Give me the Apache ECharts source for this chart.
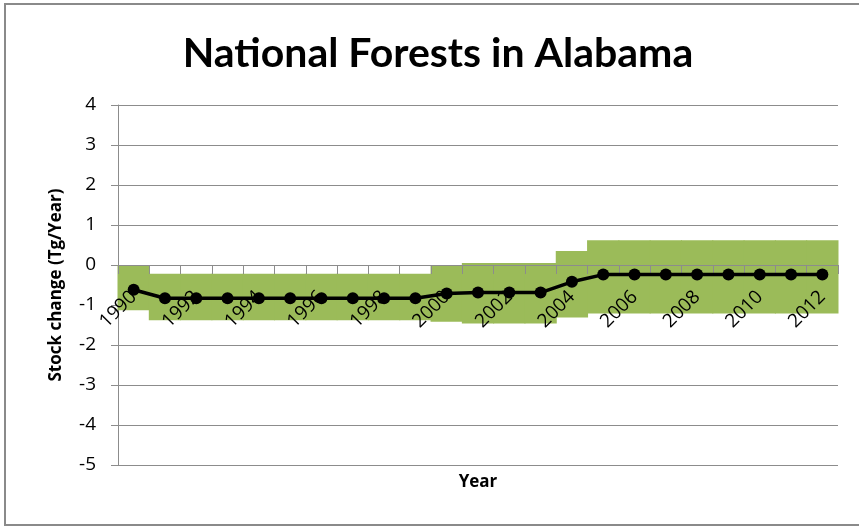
<!DOCTYPE html>
<html>
<head>
<meta charset="utf-8">
<script src="https://cdn.jsdelivr.net/npm/echarts@6/dist/echarts.min.js"></script>
<style>
html,body{margin:0;padding:0;background:#fff;}
#chart{width:859px;height:527px;}
</style>
</head>
<body>
<div id="chart"></div>
<script>
const years = ['1990','1991','1992','1993','1994','1995','1996','1997','1998','1999','2000','2001','2002','2003','2004','2005','2006','2007','2008','2009','2010','2011','2012'];
const stockChange = [-0.62,-0.83,-0.83,-0.83,-0.83,-0.83,-0.83,-0.83,-0.83,-0.83,-0.71,-0.69,-0.69,-0.69,-0.42,-0.24,-0.24,-0.24,-0.24,-0.24,-0.24,-0.24,-0.24];
const upperBound = [0,-0.22,-0.22,-0.22,-0.22,-0.22,-0.22,-0.22,-0.22,-0.22,0,0.05,0.05,0.05,0.35,0.62,0.62,0.62,0.62,0.62,0.62,0.62,0.62];
const lowerBound = [-1.13,-1.38,-1.38,-1.38,-1.38,-1.38,-1.38,-1.38,-1.38,-1.38,-1.42,-1.46,-1.46,-1.46,-1.31,-1.21,-1.21,-1.21,-1.21,-1.21,-1.21,-1.21,-1.21];
const yMin = -5, yMax = 4, yStep = 1;

const labelFont = "'Open Sans', 'Liberation Sans', sans-serif";
const titleFont = "Lato, 'Open Sans', sans-serif";
const gridBottom = 62;

const chart = echarts.init(document.getElementById('chart'), null, {renderer: 'canvas'});
chart.setOption({
  animation: false,
  backgroundColor: '#ffffff',
  title: {
    text: 'National Forests in Alabama',
    left: 433,
    top: 28,
    textAlign: 'center',
    textStyle: {fontFamily: titleFont, fontWeight: 'bold', fontSize: 41, color: '#000'}
  },
  graphic: [{
    type: 'rect',
    shape: {x: 5, y: 4, width: 900, height: 521},
    style: {fill: 'none', stroke: '#8a8a8a', lineWidth: 2},
    silent: true
  }],
  grid: {left: 118, right: 21, top: 105, bottom: gridBottom, containLabel: false, outerBoundsMode: 'none'},
  xAxis: {
    type: 'category',
    data: years,
    boundaryGap: true,
    position: 'bottom',
    offset: 0,
    z: 3,
    axisLine: {onZero: false, lineStyle: {color: '#8c8c8c', width: 1}},
    axisTick: {show: true, interval: 0, length: 9, alignWithLabel: false, lineStyle: {color: '#8c8c8c'}},
    axisLabel: {interval: 1, rotate: 45, margin: 29, fontFamily: labelFont, fontSize: 19, color: '#000'},
    splitLine: {show: false},
    name: 'Year',
    nameLocation: 'middle',
    nameGap: 209,
    nameTextStyle: {fontFamily: labelFont, fontWeight: 'bold', fontSize: 17, color: '#000'}
  },
  yAxis: {
    type: 'value',
    min: yMin, max: yMax, interval: yStep,
    axisLine: {show: true, lineStyle: {color: '#8c8c8c', width: 1}},
    axisTick: {show: true, length: 7, lineStyle: {color: '#8c8c8c'}},
    axisLabel: {margin: 22, fontFamily: labelFont, fontSize: 19, color: '#000'},
    splitLine: {show: true, lineStyle: {color: '#8c8c8c', width: 1}},
    name: 'Stock change (Tg/Year)',
    nameLocation: 'middle',
    nameGap: 53,
    nameTextStyle: {fontFamily: labelFont, fontWeight: 'bold', fontSize: 17, color: '#000'}
  },
  series: [{
    type: 'custom',
    z: 1,
    encode: {x: 0, y: [1, 2]},
    data: years.map((y, i) => [i, lowerBound[i], upperBound[i]]),
    renderItem: function (params, api) {
      const i = api.value(0);
      const lo = api.coord([i, api.value(1)]);
      const hi = api.coord([i, api.value(2)]);
      const w = api.size([1, 0])[0];
      return {
        type: 'rect',
        shape: {x: lo[0] - w / 2 - 0.5, y: hi[1], width: w + 1, height: lo[1] - hi[1]},
        style: {fill: '#9BBB59', stroke: null}
      };
    },
    silent: true
  }, {
    type: 'line',
    z: 5,
    data: stockChange,
    symbol: 'circle',
    symbolSize: 12,
    lineStyle: {color: '#000', width: 3.5},
    itemStyle: {color: '#000'}
  }]
});
// place the category axis on the value-axis zero line (via the y scale)
const zeroY = chart.convertToPixel({yAxisIndex: 0}, 0);
const axisBottomY = chart.getHeight() - gridBottom;
chart.setOption({xAxis: {offset: zeroY - axisBottomY}});
</script>
</body>
</html>
